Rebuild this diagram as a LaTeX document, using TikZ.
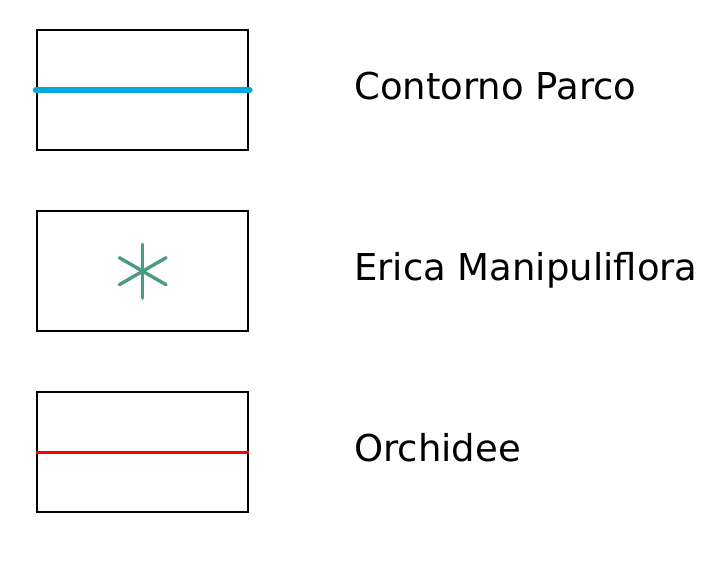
\documentclass[tikz,border=0pt]{standalone}
\usepackage{fontspec}
\setmainfont{DejaVu Sans}
\usetikzlibrary{calc}
\definecolor{parkblue}{HTML}{00A8E0}
\definecolor{ericagreen}{HTML}{4A9A85}
\definecolor{orchred}{HTML}{FF0000}
\begin{document}
\begin{tikzpicture}[x=1pt,y=-1pt,
  legbox/.style={draw=black,line width=2.4pt,minimum width=211pt,minimum height=120pt,inner sep=0pt,anchor=north west},
  legtext/.style={anchor=base west,inner sep=0pt,font=\fontsize{37}{44}\selectfont}]
\useasboundingbox (0,0) rectangle (706,560);
\node[legbox] (b1) at (36,29) {};
\node[legbox] (b2) at (36,210) {};
\node[legbox] (b3) at (36,391) {};
\draw[parkblue,line width=6.5pt,line cap=round] (b1.west) -- (b1.east);
\draw[orchred,line width=3pt] (b3.west) -- (b3.east);
\coordinate (c) at (b2.center);
\foreach \a in {90,210,330}
  \draw[ericagreen,line width=3.4pt,line cap=round] ($(c)+(\a:27)$) -- ($(c)+(\a+180:27)$);
\node[legtext] (t1) at (354,99) {Contorno Parco};
\node[legtext] (t2) at (354,280) {Erica Manipuliflora};
\node[legtext] (t3) at (354,461) {Orchidee};
\end{tikzpicture}
\end{document}
